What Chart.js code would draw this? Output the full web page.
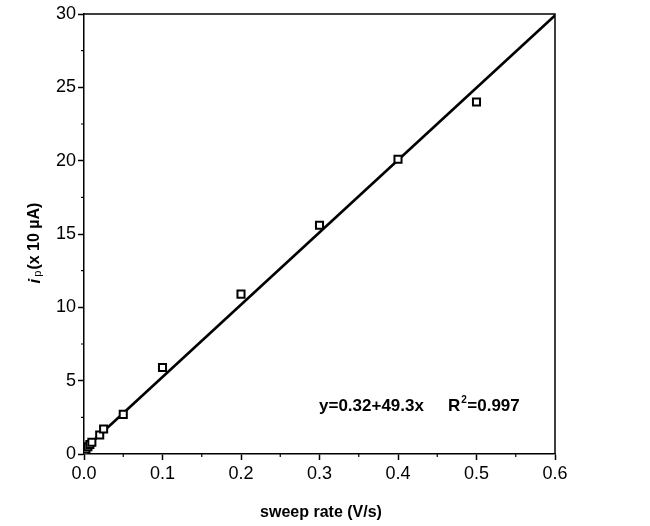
<!DOCTYPE html>
<html>
<head>
<meta charset="utf-8">
<script src="https://cdn.jsdelivr.net/npm/chart.js@4/dist/chart.umd.min.js"></script>
<style>
  html, body { margin: 0; padding: 0; background: #fff; }
  #wrap { width: 650px; height: 526px; }
</style>
</head>
<body>
<div id="wrap"><canvas id="chartSweep"></canvas></div>
<script>
// measured points (sweep rate V/s, peak current x10 uA)
const sweepRate = [0.001, 0.0025, 0.005, 0.0075, 0.01, 0.02, 0.025, 0.05, 0.1, 0.2, 0.3, 0.4, 0.5];
const peakCurrent = [0.2, 0.35, 0.5, 0.65, 0.8, 1.3, 1.7, 2.7, 5.9, 10.9, 15.6, 20.1, 24.0];
// fitted line end points: y = 0.32 + 49.3x
const fitX = [0, 0.6];
const fitY = [0.32, 29.9];
const xTicks = [0, 0.1, 0.2, 0.3, 0.4, 0.5, 0.6];
const yTicks = [0, 5, 10, 15, 20, 25, 30];
const xMinor = [0.05, 0.15, 0.25, 0.35, 0.45, 0.55];
const yMinor = [2.5, 7.5, 12.5, 17.5, 22.5, 27.5];

const FONT = "'Liberation Sans', Arial, sans-serif";

// frame, minor ticks and texts drawn on top of chart
const decorations = {
    id: 'decorations',
    afterDraw(chart) {
        const ctx = chart.ctx;
        const a = chart.chartArea;
        const xs = chart.scales.x, ys = chart.scales.y;
        ctx.save();
        ctx.strokeStyle = '#000';
        ctx.lineWidth = 1.5;
        ctx.beginPath();
        ctx.moveTo(a.left, a.top);
        ctx.lineTo(a.right, a.top);
        ctx.lineTo(a.right, a.bottom);
        ctx.stroke();

        ctx.lineWidth = 1.2;
        ctx.beginPath();
        xMinor.forEach(v => {
            const px = xs.getPixelForValue(v);
            ctx.moveTo(px, a.bottom);
            ctx.lineTo(px, a.bottom + 3);
        });
        yMinor.forEach(v => {
            const py = ys.getPixelForValue(v);
            ctx.moveTo(a.left, py);
            ctx.lineTo(a.left - 3, py);
        });
        ctx.stroke();

        ctx.fillStyle = '#000';
        // x title
        ctx.font = 'bold 16px ' + FONT;
        ctx.textAlign = 'center';
        ctx.textBaseline = 'middle';
        ctx.fillText('sweep rate (V/s)', 321, 513);

        // y title with subscript
        ctx.save();
        ctx.translate(35, 243);
        ctx.rotate(-Math.PI / 2);
        ctx.textAlign = 'left';
        ctx.textBaseline = 'middle';
        const partI = 'i';
        const partP = 'p';
        const partRest = '(x 10 \u00b5A)';
        ctx.font = 'italic bold 17px ' + FONT;
        const wI = ctx.measureText(partI).width;
        ctx.font = '11px ' + FONT;
        const wP = ctx.measureText(partP).width;
        ctx.font = 'bold 16px ' + FONT;
        const wR = ctx.measureText(partRest).width;
        let x0 = -(wI + 2 + wP + 1 + wR) / 2;
        ctx.font = 'italic bold 17px ' + FONT;
        ctx.fillText(partI, x0, 0);
        x0 += wI + 2;
        ctx.font = '11px ' + FONT;
        ctx.fillText(partP, x0, 3);
        x0 += wP + 1;
        ctx.font = 'bold 16px ' + FONT;
        ctx.fillText(partRest, x0, 0);
        ctx.restore();

        // equation
        ctx.textAlign = 'left';
        ctx.textBaseline = 'alphabetic';
        ctx.font = 'bold 17px ' + FONT;
        ctx.fillText('y=0.32+49.3x', 319, 411);
        ctx.fillText('R', 448, 411);
        const wRr = ctx.measureText('R').width;
        ctx.font = 'bold 10px ' + FONT;
        ctx.fillText('2', 448 + wRr + 1, 403);
        ctx.font = 'bold 17px ' + FONT;
        ctx.fillText('=0.997', 448 + wRr + 7, 411);
        ctx.restore();
    }
};

new Chart(document.getElementById('chartSweep'), {
    type: 'scatter',
    data: {
        datasets: [{
            label: 'fit',
            type: 'line',
            data: fitX.map((x, i) => ({ x: x, y: fitY[i] })),
            borderColor: '#000',
            borderWidth: 2.8,
            pointRadius: 0,
            fill: false,
            order: 2
        }, {
            label: 'data',
            data: sweepRate.map((x, i) => ({ x: x, y: peakCurrent[i] })),
            pointStyle: 'rect',
            pointRadius: 5,
            borderColor: '#000',
            borderWidth: 2,
            backgroundColor: '#fff',
            order: 1
        }]
    },
    options: {
        responsive: true,
        maintainAspectRatio: false,
        animation: false,
        layout: { padding: { left: 0, top: 14, right: 95, bottom: 0 } },
        plugins: {
            legend: { display: false },
            tooltip: { enabled: false }
        },
        scales: {
            x: {
                type: 'linear',
                min: 0,
                max: 0.6,
                afterBuildTicks: function(scale) {
                    scale.ticks = xTicks.map(v => ({ value: v }));
                },
                afterFit: function(scale) { scale.height = 72; },
                grid: {
                    drawOnChartArea: false,
                    drawTicks: true,
                    tickLength: 6,
                    tickWidth: 1.5,
                    color: '#000'
                },
                border: { color: '#000', width: 1.5 },
                ticks: {
                    color: '#000',
                    font: { family: FONT, size: 18 },
                    padding: 3,
                    maxRotation: 0,
                    callback: function(value) { return value.toFixed(1); }
                }
            },
            y: {
                type: 'linear',
                min: 0,
                max: 30,
                afterBuildTicks: function(scale) {
                    scale.ticks = yTicks.map(v => ({ value: v }));
                },
                afterFit: function(scale) { scale.width = 84; },
                grid: {
                    drawOnChartArea: false,
                    drawTicks: true,
                    tickLength: 6,
                    tickWidth: 1.5,
                    color: '#000'
                },
                border: { color: '#000', width: 1.5 },
                ticks: {
                    color: '#000',
                    font: { family: FONT, size: 18 },
                    padding: 2
                }
            }
        }
    },
    plugins: [decorations]
});
</script>
</body>
</html>
